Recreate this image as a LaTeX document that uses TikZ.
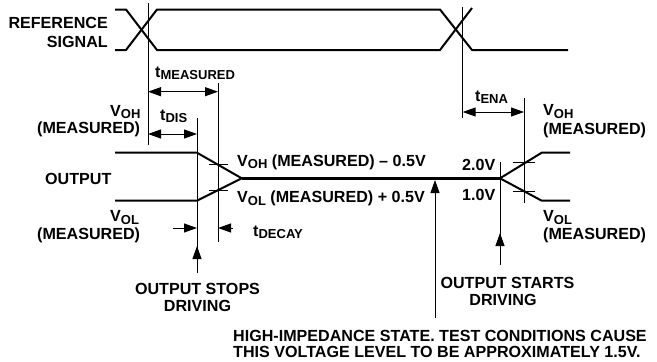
\documentclass[tikz,border=0pt]{standalone}
\usepackage{fontspec}
\setmainfont{Liberation Sans}
\usetikzlibrary{arrows.meta}
\newcommand{\sbs}[1]{\raisebox{-2.6pt}{\fontsize{13}{13}\selectfont #1}}
\begin{document}
\begin{tikzpicture}[x=1pt,y=-1pt,
  sig/.style={line width=2pt},
  thinline/.style={line width=1pt},
  bus/.style={line width=3pt},
  lbl/.style={font=\fontsize{16.1}{18}\selectfont\bfseries, inner sep=0pt},
  arr/.style={thinline,-{Triangle[length=13pt,width=9pt]}},
  dbl/.style={thinline,{Triangle[length=13pt,width=9pt]}-{Triangle[length=13pt,width=9pt]}},
]
\useasboundingbox (0,0) rectangle (657,362);
% reference signal
\coordinate (r1) at (115,9.5); \coordinate (r2) at (126,9.5);
\coordinate (r3) at (157,50); \coordinate (r4) at (440,50); \coordinate (r5) at (472,8);
\coordinate (s1) at (115,50); \coordinate (s2) at (126,50);
\coordinate (s3) at (157,9.5); \coordinate (s4) at (440,9.5); \coordinate (s5) at (472,50);
\coordinate (s6) at (568,50);
\draw[sig] (r1) -- (r2) -- (r3) -- (r4) -- (r5);
\draw[sig] (s1) -- (s2) -- (s3) -- (s4) -- (s5) -- (s6);
% output waveform
\coordinate (o1) at (115,152.7); \coordinate (o2) at (197,152.7);
\coordinate (p1) at (115,200.7); \coordinate (p2) at (197,200.7);
\coordinate (hz0) at (241.7,178.3); \coordinate (hz1) at (500,178.3);
\coordinate (q1) at (541.7,152.7); \coordinate (q2) at (570,152.7);
\coordinate (u1) at (541.7,200.7); \coordinate (u2) at (570,200.7);
\draw[sig] (o1) -- (o2) -- (hz0);
\draw[sig] (p1) -- (p2) -- (hz0);
\draw[bus] (hz0) -- (hz1);
\draw[sig] (hz1) -- (q1) -- (q2);
\draw[sig] (hz1) -- (u1) -- (u2);
% vertical reference lines
\coordinate (v1t) at (148,3); \coordinate (v1b) at (148,145);
\coordinate (v2t) at (462.7,7); \coordinate (v2b) at (462.7,118);
\coordinate (v3t) at (218,83); \coordinate (v3b) at (218,242);
\coordinate (v4t) at (197,118); \coordinate (v4b) at (197,273);
\coordinate (v5t) at (524,98); \coordinate (v5b) at (524,203);
\coordinate (v6t) at (500,162); \coordinate (v6b) at (500,265);
\draw[thinline] (v1t) -- (v1b);
\draw[thinline] (v2t) -- (v2b);
\draw[thinline] (v3t) -- (v3b);
\draw[thinline] (v4t) -- (v4b);
\draw[thinline] (v5t) -- (v5b);
\draw[thinline] (v6t) -- (v6b);
% ticks
\coordinate (k1a) at (209,164); \coordinate (k1b) at (228,164);
\coordinate (k2a) at (209,190.7); \coordinate (k2b) at (228,190.7);
\coordinate (k3a) at (513,162.7); \coordinate (k3b) at (535,162.7);
\coordinate (k4a) at (513,191.7); \coordinate (k4b) at (535,191.7);
\draw[thinline] (k1a) -- (k1b);
\draw[thinline] (k2a) -- (k2b);
\draw[thinline] (k3a) -- (k3b);
\draw[thinline] (k4a) -- (k4b);
% dimension arrows
\coordinate (m1) at (148,91.7); \coordinate (m2) at (218,91.7);
\coordinate (d1) at (148,134); \coordinate (d2) at (197,134);
\coordinate (e1) at (462.7,112); \coordinate (e2) at (524,112);
\draw[dbl] (m1) -- (m2);
\draw[dbl] (d1) -- (d2);
\draw[dbl] (e1) -- (e2);
\coordinate (c1) at (173,228); \coordinate (c2) at (197,228);
\coordinate (c3) at (233,228); \coordinate (c4) at (218,228);
\draw[arr] (c1) -- (c2);
\draw[arr] (c3) -- (c4);
\coordinate (st1) at (197,273); \coordinate (st2) at (197,246);
\coordinate (sa1) at (500,265); \coordinate (sa2) at (500,233);
\coordinate (hi1) at (435,318); \coordinate (hi2) at (435,180);
\draw[arr] (st1) -- (st2);
\draw[arr] (sa1) -- (sa2);
\draw[arr] (hi1) -- (hi2);
% labels
\node[lbl, anchor=base east] (tref1) at (108,28.3) {REFERENCE};
\node[lbl, anchor=base east] (tref2) at (108,47.3) {SIGNAL};
\node[lbl, anchor=base west] (tmeas) at (155,77) {t\sbs{MEASURED}};
\node[lbl, anchor=base west] (tdis) at (160,120) {t\sbs{DIS}};
\node[lbl, anchor=base west] (tena) at (475,101) {t\sbs{ENA}};
\node[lbl, anchor=base west] (tdec) at (253,236) {t\sbs{DECAY}};
\node[lbl, anchor=base west] (lvoh) at (110,116.3) {V\sbs{OH}};
\node[lbl, anchor=base west] (lvohm) at (37,133.5) {(MEASURED)};
\node[lbl, anchor=base west] (lout) at (45,184) {OUTPUT};
\node[lbl, anchor=base west] (lvol) at (110,221.5) {V\sbs{OL}};
\node[lbl, anchor=base west] (lvolm) at (37,239) {(MEASURED)};
\node[lbl, anchor=base west] (mvoh) at (237,166) {V\sbs{OH} (MEASURED) -- 0.5V};
\node[lbl, anchor=base west] (mvol) at (237,202.5) {V\sbs{OL} (MEASURED) + 0.5V};
\node[lbl, anchor=base west] (two) at (462,170) {2.0V};
\node[lbl, anchor=base west] (one) at (462,200) {1.0V};
\node[lbl, anchor=base west] (rvoh) at (543,115.5) {V\sbs{OH}};
\node[lbl, anchor=base west] (rvohm) at (543,134) {(MEASURED)};
\node[lbl, anchor=base west] (rvol) at (543,221.5) {V\sbs{OL}};
\node[lbl, anchor=base west] (rvolm) at (543,239) {(MEASURED)};
\node[lbl, anchor=base] (stop1) at (197.5,294) {OUTPUT STOPS};
\node[lbl, anchor=base] (stop2) at (197.5,311.7) {DRIVING};
\node[lbl, anchor=base] (start1) at (507.5,288.3) {OUTPUT STARTS};
\node[lbl, anchor=base] (start2) at (503,305) {DRIVING};
\node[lbl, anchor=base west] (hiz1) at (233,341.7) {HIGH-IMPEDANCE STATE. TEST CONDITIONS CAUSE};
\node[lbl, anchor=base west] (hiz2) at (233,357.7) {THIS VOLTAGE LEVEL TO BE APPROXIMATELY 1.5V.};
\end{tikzpicture}
\end{document}
